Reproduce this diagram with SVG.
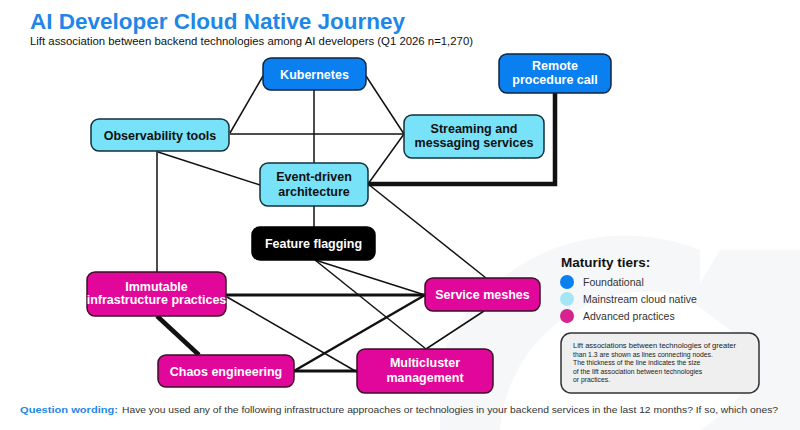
<svg xmlns="http://www.w3.org/2000/svg" width="800" height="430" viewBox="0 0 800 430">
  <style>
    .t { font-family: "Liberation Sans", Arial, sans-serif; }
    .nodeTxt { font-family: "Liberation Sans", Arial, sans-serif; font-weight: bold; font-size: 12.5px; text-anchor: middle; }
    .found rect { fill: #0a7ff0; stroke: #0f2440; stroke-width: 1.5; }
    .main rect { fill: #78e2f8; stroke: #10303a; stroke-width: 1.5; }
    .adv rect { fill: #e2079b; stroke: #3a0f26; stroke-width: 1.5; }
    .dark rect { fill: #000; stroke: #000; stroke-width: 1.5; }
    .white { fill: #fff; }
    .black { fill: #111; }
    .edges line, .edges polyline { stroke: #111; fill: none; stroke-linecap: butt; }
    .thin { stroke-width: 1.5; }
  </style>

  <rect width="800" height="430" fill="#ffffff"/>
  <!-- faint watermark -->
  <g fill="#f6f7f9">
    <path d="M 700 250 A 200 200 0 0 0 440 360 L 440 430 L 500 430 A 150 150 0 0 1 700 300 Z"/>
    <path d="M 720 250 L 800 250 L 800 430 L 700 430 Q 780 380 730 330 L 690 300 Z"/>
  </g>

  <text class="t" x="30" y="29" font-size="22.5" font-weight="bold" fill="#1f87e8">AI Developer Cloud Native Journey</text>
  <text class="t" x="30" y="45" font-size="11" fill="#111" textLength="443" lengthAdjust="spacingAndGlyphs">Lift association between backend technologies among AI developers (Q1 2026 n=1,270)</text>

  <g id="connectors" class="edges">
    <line class="thin" x1="263" y1="76" x2="230" y2="133"/>
    <line class="thin" x1="314" y1="90" x2="314" y2="163"/>
    <line class="thin" x1="366" y1="76" x2="404" y2="134"/>
    <line class="thin" x1="230" y1="134" x2="404" y2="134"/>
    <line class="thin" x1="158" y1="152" x2="260" y2="185"/>
    <line class="thin" x1="157" y1="151" x2="157" y2="272"/>
    <line class="thin" x1="368" y1="184" x2="404" y2="134"/>
    <line class="thin" x1="368" y1="184" x2="486" y2="278"/>
    <line class="thin" x1="314" y1="206" x2="314" y2="227"/>
    <line class="thin" x1="315" y1="260" x2="425" y2="295"/>
    <line class="thin" x1="315" y1="260" x2="426" y2="349"/>
    <line class="thin" x1="484" y1="311" x2="426" y2="349"/>
    <line class="thin" x1="227" y1="297" x2="357" y2="372"/>
    <line stroke-width="2.5" x1="294" y1="371" x2="425" y2="295"/>
    <line stroke-width="3" x1="226" y1="295" x2="425" y2="295"/>
    <line stroke-width="3" x1="294" y1="371" x2="357" y2="371"/>
    <line stroke-width="4.5" x1="157" y1="316" x2="199" y2="355"/>
    <polyline stroke-width="4.5" points="555,93 555,184 368,184"/>
  </g>

  <g id="node-kubernetes" class="found">
    <rect x="263" y="58" width="103" height="32" rx="8"/>
    <text class="nodeTxt white" x="314.5" y="78.5">Kubernetes</text>
  </g>
  <g id="node-rpc" class="found">
    <rect x="499" y="54" width="112" height="39" rx="8"/>
    <text class="nodeTxt white" x="555" y="70">Remote</text>
    <text class="nodeTxt white" x="555" y="84">procedure call</text>
  </g>
  <g id="node-observability" class="main">
    <rect x="91" y="119" width="138" height="32" rx="8"/>
    <text class="nodeTxt black" x="160" y="139.5">Observability tools</text>
  </g>
  <g id="node-streaming" class="main">
    <rect x="404" y="115" width="140" height="43" rx="8"/>
    <text class="nodeTxt black" x="474" y="133">Streaming and</text>
    <text class="nodeTxt black" x="474" y="147">messaging services</text>
  </g>
  <g id="node-event" class="main">
    <rect x="260" y="163" width="108" height="43" rx="8"/>
    <text class="nodeTxt black" x="314" y="181">Event-driven</text>
    <text class="nodeTxt black" x="314" y="195.5">architecture</text>
  </g>
  <g id="node-feature" class="dark">
    <rect x="252" y="227" width="123" height="33" rx="8"/>
    <text class="nodeTxt white" x="313.5" y="248">Feature flagging</text>
  </g>
  <g id="node-immutable" class="adv">
    <rect x="87" y="272" width="139" height="44" rx="8"/>
    <text class="nodeTxt white" x="156.5" y="291" font-size="11">Immutable</text>
    <text class="nodeTxt white" x="156.5" y="304" font-size="11">infrastructure practices</text>
  </g>
  <g id="node-service" class="adv">
    <rect x="425" y="278" width="115" height="33" rx="8"/>
    <text class="nodeTxt white" x="482.5" y="299">Service meshes</text>
  </g>
  <g id="node-chaos" class="adv">
    <rect x="158" y="355" width="136" height="32" rx="8"/>
    <text class="nodeTxt white" x="226" y="375.5" font-size="12">Chaos engineering</text>
  </g>
  <g id="node-multicluster" class="adv">
    <rect x="357" y="349" width="136" height="44" rx="8"/>
    <text class="nodeTxt white" x="425" y="367">Multicluster</text>
    <text class="nodeTxt white" x="425" y="382">management</text>
  </g>

  <g id="legend">
    <text class="t" x="561" y="267" font-size="13.5" font-weight="bold" fill="#111">Maturity tiers:</text>
    <circle cx="567" cy="282" r="7" fill="#0a7ff0"/>
    <circle cx="567" cy="299" r="7" fill="#a5e6f6"/>
    <circle cx="567" cy="316" r="7" fill="#d6238f"/>
    <text class="t" x="583" y="286" font-size="10.5" fill="#333">Foundational</text>
    <text class="t" x="583" y="303" font-size="10.5" fill="#333">Mainstream cloud native</text>
    <text class="t" x="583" y="320" font-size="10.5" fill="#333">Advanced practices</text>
    <rect x="561" y="333" width="198" height="60" rx="10" fill="#efefef" stroke="#333" stroke-width="1.5"/>
    <g class="t" font-size="6.8" fill="#222">
      <text x="573" y="348" textLength="163" lengthAdjust="spacingAndGlyphs">Lift associations between technologies of greater</text>
      <text x="573" y="356.5">than 1.3 are shown as lines connecting nodes.</text>
      <text x="573" y="365">The thickness of the line indicates the size</text>
      <text x="573" y="373.5">of the lift association between technologies</text>
      <text x="573" y="382">or practices.</text>
    </g>
  </g>

  <g id="footer">
    <text class="t" x="20" y="413" font-size="9.5" font-weight="bold" fill="#1f87e8" textLength="98" lengthAdjust="spacingAndGlyphs">Question wording:</text>
    <text class="t" x="122" y="413" font-size="9.5" fill="#333" textLength="656" lengthAdjust="spacingAndGlyphs">Have you used any of the following infrastructure approaches or technologies in your backend services in the last 12 months? If so, which ones?</text>
  </g>
</svg>
